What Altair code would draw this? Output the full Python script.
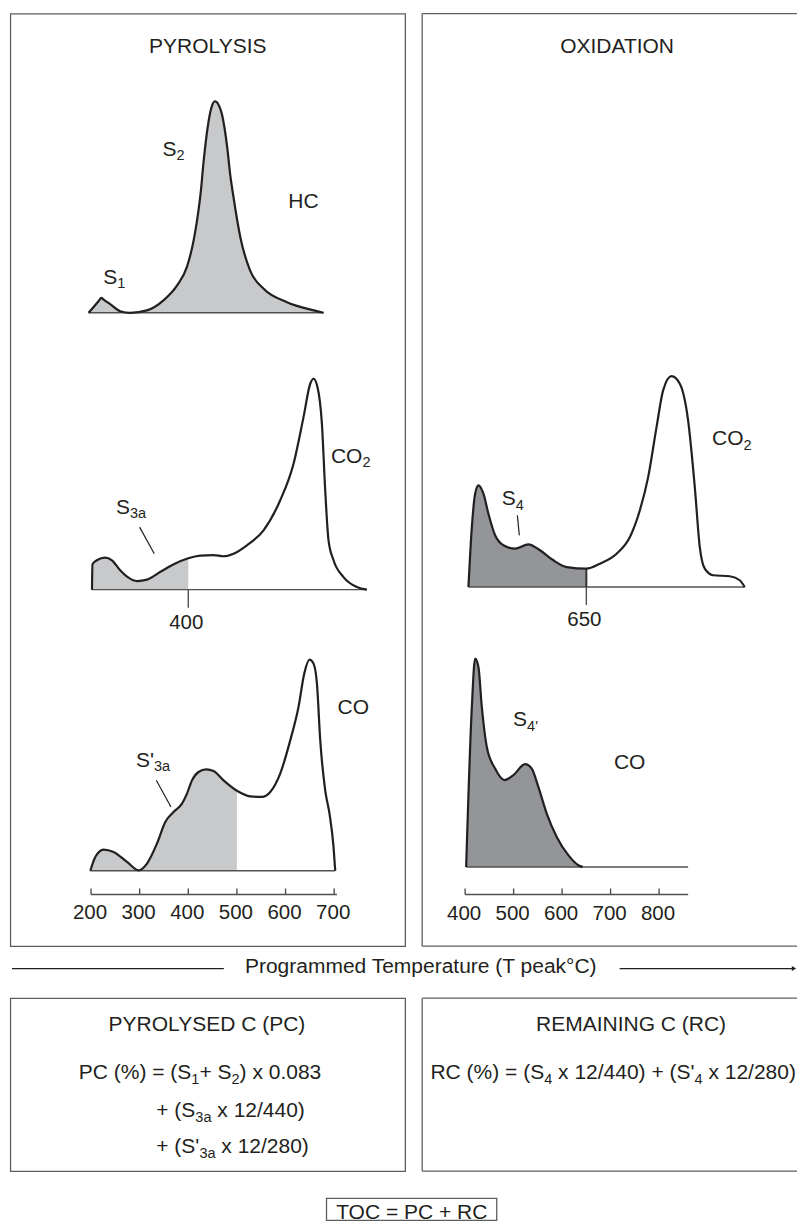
import altair as alt
import pandas as pd

# ---------------- values ----------------
# temperatures in degC, detector signals in arbitrary units
hc_temp = [195, 217, 221, 226, 240, 260, 281, 315, 349, 377, 397, 411, 418, 426, 431, 442, 449,
           455, 462, 469, 480, 486, 493, 507, 527, 555, 603, 658, 678]
hc_sig = [0, 6.3, 7.5, 6.6, 4.2, 0.8, 0, 1.2, 6.2, 13.7, 22.8, 36.2, 46.2, 61.2, 74.5, 96.2, 103.7,
          105.8, 104.2, 99.5, 82.8, 69.5, 57.8, 37.8, 21.2, 12, 5.3, 1.2, 0]

pco2_temp = [202, 203, 212, 229, 243, 260, 277, 294.5, 315, 342, 370, 400, 425, 452, 472.5,
             493, 520.6, 554.7, 589, 616.4, 636.9, 650.7, 657.5, 665.7, 674.7, 681.5, 688.3,
             698.6, 719.1, 746.6, 767.2]
pco2_sig = [0, 12.7, 14.7, 16, 14.7, 9.7, 6, 4.3, 5, 8.8, 12.7, 15.7, 17, 17.3, 16.7,
            18, 22.2, 29.7, 44.7, 63, 86.3, 103, 105.5, 101.3, 83, 49.7, 24.7,
            14.7, 6.3, 1.3, 0]

pco_temp = [198.6, 208.8, 225.9, 246.4, 274, 297.8, 315.1, 335.6, 352.7, 369.8, 387, 397.3,
            407.6, 421.1, 436.9, 452, 472.5, 500, 527.4, 551.4, 568.5, 589, 609.6, 626.6,
            638.4, 649.2, 657.5, 664.5, 671.3, 681.5, 690.3, 698.6, 702.1]
pco_sig = [0, 6.9, 10.6, 9.4, 4.4, 0.2, 3.6, 13.6, 24.4, 29.4, 33.6, 38.6,
           45.2, 49.4, 50.7, 49.9, 45.2, 40, 37.2, 36.9, 39.4, 48.6, 65.2, 81.9,
           98.6, 105.6, 103.6, 93.6, 65.2, 40.2, 28.6, 11.9, 0]

oco2_temp = [406.8, 413.8, 420.6, 427.4, 437.7, 448, 461.8, 478.9, 503, 530.4, 554.5, 581.9,
             609.5, 650, 678, 712.5, 739.9, 760.4, 777.5, 794.8, 808.4, 825.7, 842.8, 859.9,
             873.7, 884, 894.3, 911.4, 945.9, 966.4, 976.7]
oco2_sig = [0, 30, 46.7, 50.9, 46.7, 36.7, 25.9, 20.9, 19.2, 21.4, 18.4, 13.4,
            10, 9.2, 11.7, 16.7, 25, 38.4, 55, 80, 98.4, 105.5, 101.7, 83.4,
            50, 20, 9.2, 5.9, 5.4, 3.4, 0]

oco_temp = [402.1, 413.8, 420.6, 427.4, 434.4, 444.7, 461.8, 481, 499.5, 523.6, 537.4, 551,
            568.3, 588.9, 612.8, 636.9, 642.4]
oco_sig = [0, 80, 104.2, 100, 80, 60, 49.2, 43.4, 45.9, 51.4, 49.2, 40,
           26.7, 15, 5.9, 0.4, 0]

# baseline extents of each trace (degC)
hc_span, pco2_span, pco_span = (195, 678), (202, 767.2), (198.6, 702.1)
oco2_span, oco_span = (406.8, 976.7), (402.1, 860)
pyro_axis_span, oxid_axis_span = (200, 705.6), (400, 860)

pyro_ticks = [200, 300, 400, 500, 600, 700]
oxid_ticks = [400, 500, 600, 700, 800]
pco2_cut = 400   # end of S3a
pco_cut = 500    # end of S'3a
oco2_cut = 650   # end of S4

# ---------------- style / layout ----------------
INK = "#231f20"
FRAME = "#5e5e5e"
BASE = "#505050"
LIGHT = "#c8c9cb"
DARK = "#939598"
FONT = "Liberation Sans"
FS = 21
FS_SUB = 14.5
SUB_DROP = 4.5
PX_PER_UNIT = 2.0
FW = 1.3  # frame stroke width

PANEL_H = 933
PYRO_W, OXID_W, GAP = 395, 375, 17
ROW_W = PYRO_W + GAP + OXID_W
ROW_B_H, BOX_H, ROW_D_H = 49.7, 173, 49

xs_pyro = alt.Scale(domain=[200, 700], range=[80.7, 324.0], zero=False, nice=False)
xs_oxid = alt.Scale(domain=[400, 800], range=[43.0, 237.0], zero=False, nice=False)
K_PYRO = (324.0 - 80.7) / 500
K_OXID = (237.0 - 43.0) / 400

WIDTHS = {
    "A": 667, "C": 722, "D": 722, "E": 667, "G": 778, "H": 722, "I": 278, "L": 556,
    "M": 833, "N": 722, "O": 778, "P": 667, "R": 722, "S": 667, "T": 611, "X": 667,
    "Y": 667, "a": 556, "d": 556, "e": 556, "g": 556, "k": 500, "m": 833, "o": 556,
    "p": 556, "r": 333, "t": 278, "u": 556, "x": 500, " ": 278, "(": 333,
    ")": 333, "%": 889, "=": 584, "+": 584, ".": 278, "/": 278, "'": 191, "\u00b0": 400,
}

dummy = pd.DataFrame({"a": [0]})
NO_STROKE = alt.ViewBackground(strokeWidth=0)


def text_w(s, size):
    return sum(WIDTHS.get(c, 556) for c in s) * size / 1000.0


def pieces(segs):
    """Lay out text pieces left to right; SVG drops leading/trailing blanks,
    so blanks are turned into explicit advances. Yields (offset_px, text, is_sub, size)."""
    x = 0.0
    for txt, sub in segs:
        size = FS_SUB if sub else FS
        lead = txt[: len(txt) - len(txt.lstrip(" "))]
        core = txt.strip(" ")
        trail = txt[len(txt.rstrip(" ")):]
        x += text_w(lead, size)
        yield x, core, sub, size
        x += text_w(core, size) + text_w(trail, size)


def total_w(segs):
    return sum(text_w(t, FS_SUB if s else FS) for t, s in segs)


def yscale(base):
    return alt.Scale(domain=[0, 100], range=[base, base - 100 * PX_PER_UNIT],
                     zero=False, nice=False)


def label_df(labels, k):
    rows = []
    for T0, S0, segs in labels:
        for off, txt, sub, size in pieces(segs):
            rows.append({"T": T0 + off / k,
                         "S": S0 - (SUB_DROP / PX_PER_UNIT if sub else 0.0),
                         "txt": txt, "size": size})
    return pd.DataFrame(rows)


def trace(temp, sig, xs, k, base, span, cut=None, fill=LIGHT, labels=(), leaders=(),
          cut_line=False, marker=None):
    df = pd.DataFrame({"T": temp, "S": sig})
    ys = yscale(base)
    X = alt.X("T:Q", scale=xs, axis=None)
    Y = alt.Y("S:Q", scale=ys, axis=None)
    shade = df if cut is None else df[df["T"] <= cut]
    layers = [
        alt.Chart(shade).mark_area(color=fill, interpolate="monotone").encode(
            X, Y, y2=alt.datum(0)),
        alt.Chart(pd.DataFrame({"T": [span[0]], "T2": [span[1]], "S": [0]})).mark_rule(
            color=BASE, strokeWidth=1.4).encode(X, alt.X2("T2:Q"), Y),
    ]
    if cut_line:
        val = float(df.loc[df["T"] == cut, "S"].iloc[0])
        layers.append(
            alt.Chart(pd.DataFrame({"T": [cut], "S": [0], "S2": [val]})).mark_rule(
                color="#333333", strokeWidth=2).encode(X, Y, alt.Y2("S2:Q")))
    layers.append(
        alt.Chart(df).mark_line(color=INK, strokeWidth=2.2, interpolate="monotone",
                                strokeJoin="round").encode(X, Y))
    if labels:
        layers.append(
            alt.Chart(label_df(labels, k)).mark_text(
                align="left", baseline="alphabetic", font=FONT, color=INK).encode(
                X, Y, text="txt:N", size=alt.Size("size:Q", scale=None)))
    if leaders:
        ld = pd.DataFrame([{"T": a, "S": b, "T2": c, "S2": d} for a, b, c, d in leaders])
        layers.append(
            alt.Chart(ld).mark_rule(color=INK, strokeWidth=1.2).encode(
                X, Y, alt.X2("T2:Q"), alt.Y2("S2:Q")))
    if marker is not None:
        mk = pd.DataFrame({"T": [marker]})
        layers.append(
            alt.Chart(mk).mark_rule(color=BASE, strokeWidth=1.4).encode(
                X, y=alt.value(base), y2=alt.value(base + 18)))
        layers.append(
            alt.Chart(mk).mark_text(font=FONT, fontSize=20.5, color=INK, align="center",
                                    baseline="alphabetic", dx=-2).encode(
                X, y=alt.value(base + 39.3), text=alt.Text("T:Q", format="d")))
    return alt.layer(*layers)


def axis_layers(ticks, xs, span, y_line, y_lab):
    X = alt.X("T:Q", scale=xs, axis=None)
    tk = pd.DataFrame({"T": ticks})
    return [
        alt.Chart(pd.DataFrame({"T": [span[0]], "T2": [span[1]]})).mark_rule(
            color=BASE, strokeWidth=1.4).encode(X, alt.X2("T2:Q"), y=alt.value(y_line)),
        alt.Chart(tk).mark_rule(color=BASE, strokeWidth=1.4).encode(
            X, y=alt.value(y_line - 6), y2=alt.value(y_line)),
        alt.Chart(tk).mark_text(font=FONT, fontSize=20.5, color=INK, align="center",
                                baseline="alphabetic", dx=-1).encode(
            X, y=alt.value(y_lab), text=alt.Text("T:Q", format="d")),
    ]


def open_frame(w, h):
    """left, top and bottom edges of a frame whose right edge runs off the page"""
    return [
        alt.Chart(dummy).mark_rule(color=FRAME, strokeWidth=FW).encode(
            x=alt.value(0), y=alt.value(0), y2=alt.value(h)),
        alt.Chart(dummy).mark_rule(color=FRAME, strokeWidth=FW).encode(
            x=alt.value(0), x2=alt.value(w), y=alt.value(0)),
        alt.Chart(dummy).mark_rule(color=FRAME, strokeWidth=FW).encode(
            x=alt.value(0), x2=alt.value(w), y=alt.value(h)),
    ]


def text_layer(txt, x, y, align="center", size=FS):
    return alt.Chart(pd.DataFrame({"t": [txt]})).mark_text(
        font=FONT, fontSize=size, color=INK, align=align, baseline="alphabetic").encode(
        text="t:N", x=alt.value(x), y=alt.value(y))


def seg_rows(x0, y0, segs, center=False):
    start = x0 - total_w(segs) / 2 if center else x0
    return [{"px": start + off, "py": y0 + (SUB_DROP if sub else 0.0), "txt": txt, "size": size}
            for off, txt, sub, size in pieces(segs)]


def seg_layer(rows):
    return alt.Chart(pd.DataFrame(rows)).mark_text(
        font=FONT, color=INK, align="left", baseline="alphabetic").encode(
        x=alt.X("px:Q", scale=None), y=alt.Y("py:Q", scale=None),
        text="txt:N", size=alt.Size("size:Q", scale=None))


# ---------------- pyrolysis panel ----------------
pyro = alt.layer(
    text_layer("PYROLYSIS", PYRO_W / 2, 39.5),
    trace(hc_temp, hc_sig, xs_pyro, K_PYRO, 299.3, hc_span,
          labels=[(225.3, 14.5, [("S", 0), ("1", 1)]),
                  (347.1, 78.65, [("S", 0), ("2", 1)]),
                  (605.5, 52.3, [("HC", 0)])]),
    trace(pco2_temp, pco2_sig, xs_pyro, K_PYRO, 576.3, pco2_span, cut=pco2_cut,
          labels=[(693.2, 63.5, [("CO", 0), ("2", 1)]),
                  (251.4, 38.0, [("S", 0), ("3a", 1)])],
          leaders=[(299.9, 31.3, 330.1, 18.0)], marker=pco2_cut),
    trace(pco_temp, pco_sig, xs_pyro, K_PYRO, 857.5, pco_span, cut=pco_cut,
          labels=[(706.8, 78.6, [("CO", 0)]),
                  (292.5, 51.9, [("S'", 0), ("3a", 1)])],
          leaders=[(334.2, 45.25, 364.4, 31.9)]),
    *axis_layers(pyro_ticks, xs_pyro, pyro_axis_span, 881.3, 905.5),
).resolve_scale(y="independent").properties(width=PYRO_W, height=PANEL_H)

# ---------------- oxidation panel ----------------
oxid = alt.layer(
    *open_frame(OXID_W, PANEL_H),
    text_layer("OXIDATION", 195, 39.5),
    trace(oco2_temp, oco2_sig, xs_oxid, K_OXID, 573.7, oco2_span, cut=oco2_cut, fill=DARK,
          labels=[(909.4, 70.85, [("CO", 0), ("2", 1)]),
                  (475.6, 40.85, [("S", 0), ("4", 1)])],
          leaders=[(507.7, 35.85, 511.8, 25.85)], cut_line=True, marker=oco2_cut),
    trace(oco_temp, oco_sig, xs_oxid, K_OXID, 853.7, oco_span, fill=DARK,
          labels=[(706.9, 49.2, [("CO", 0)]),
                  (498.9, 70.35, [("S", 0), ("4'", 1)])]),
    *axis_layers(oxid_ticks, xs_oxid, oxid_axis_span, 881.3, 906.5),
).resolve_scale(y="independent").properties(width=OXID_W, height=PANEL_H, view=NO_STROKE)

row_a = alt.hconcat(pyro, oxid, spacing=GAP, bounds="flush")

# ---------------- programmed temperature row ----------------
row_b = alt.layer(
    alt.Chart(dummy).mark_rule(color=INK, strokeWidth=1.3).encode(
        x=alt.value(1.6), x2=alt.value(213.6), y=alt.value(21.35)),
    alt.Chart(dummy).mark_rule(color=INK, strokeWidth=1.3).encode(
        x=alt.value(609.6), x2=alt.value(783), y=alt.value(21.35)),
    alt.Chart(dummy).mark_point(shape="triangle-right", filled=True, color=INK,
                                size=26, opacity=1).encode(
        x=alt.value(784), y=alt.value(21.35)),
    text_layer("Programmed Temperature (T peak\u00b0C)", 410.6, 25.65),
).properties(width=ROW_W, height=ROW_B_H, view=NO_STROKE)

# ---------------- formula boxes ----------------
box1 = seg_layer(
    seg_rows(PYRO_W / 2, 33, [("PYROLYSED C (PC)", 0)], center=True)
    + seg_rows(68.5, 81, [("PC (%) = (S", 0), ("1", 1), ("+ S", 0), ("2", 1),
                          (") x 0.083", 0)])
    + seg_rows(146, 119, [("+ (S", 0), ("3a", 1), (" x 12/440)", 0)])
    + seg_rows(146, 155, [("+ (S'", 0), ("3a", 1), (" x 12/280)", 0)])
).properties(width=PYRO_W, height=BOX_H)

box2 = alt.layer(
    *open_frame(OXID_W, BOX_H),
    seg_layer(
        seg_rows(209, 33, [("REMAINING C (RC)", 0)], center=True)
        + seg_rows(8.3, 81, [("RC (%) = (S", 0), ("4", 1), (" x 12/440) + (S'", 0), ("4", 1),
                             (" x 12/280)", 0)])
    ),
).properties(width=OXID_W, height=BOX_H, view=NO_STROKE)

row_c = alt.hconcat(box1, box2, spacing=GAP, bounds="flush")

# ---------------- TOC ----------------
row_d = alt.layer(
    alt.Chart(dummy).mark_rect(fillOpacity=0, stroke=FRAME, strokeWidth=FW).encode(
        x=alt.value(316.3), x2=alt.value(486.6), y=alt.value(26.35), y2=alt.value(48.3)),
    text_layer("TOC = PC + RC", 401.6, 47.2),
).properties(width=ROW_W, height=ROW_D_H, view=NO_STROKE)

chart = alt.vconcat(row_a, row_b, row_c, row_d, spacing=0).properties(
    padding={"left": 1.35, "top": 4.35, "right": 0, "bottom": 0},
    background="white",
).configure_view(stroke=FRAME, strokeWidth=FW)

chart.save("out.html", embed_options={"renderer": "svg", "actions": False})
